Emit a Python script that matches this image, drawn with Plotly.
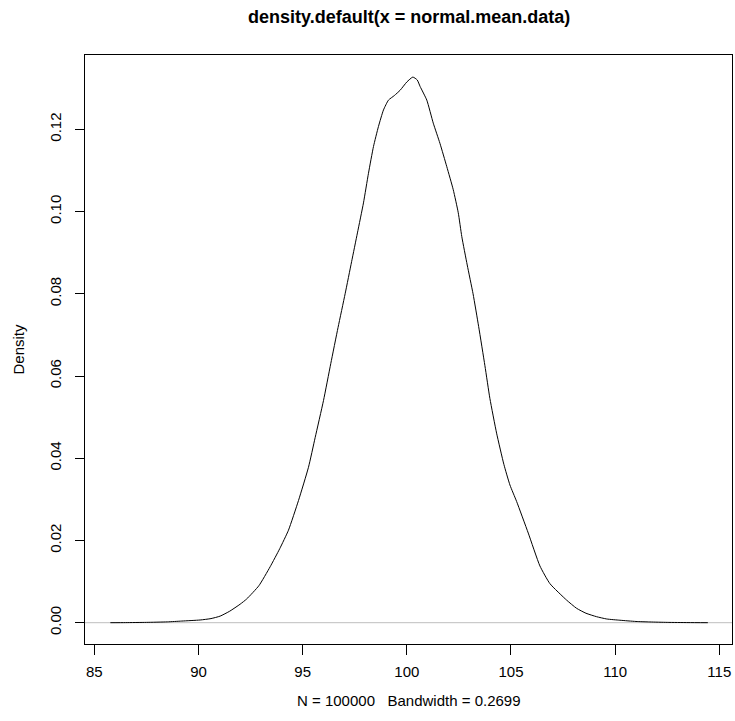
import plotly.graph_objects as go

# Density estimate
x_vals = [85.77, 86.5, 87.5, 88.5, 89.2, 90.08, 90.6, 91.04, 91.5, 92.0, 92.32, 92.9,
          93.44, 93.9, 94.32, 94.8, 95.28, 95.6, 96.0, 96.35, 96.7, 97.04, 97.35, 97.63,
          97.92, 98.16, 98.40, 98.64, 98.88, 99.12, 99.4, 99.68, 100.0, 100.29, 100.5,
          100.64, 100.96, 101.27, 101.59, 101.92, 102.23, 102.47, 102.64, 102.9, 103.18,
          103.45, 103.75, 103.99, 104.31, 104.66, 104.95, 105.27, 105.83, 106.39, 106.87,
          107.67, 108.15, 108.6, 109.11, 109.6, 110.23, 111.0, 111.67, 112.5, 113.5, 114.45]
density_vals = [0.0, 0.00002, 0.00008, 0.0002, 0.0004, 0.00066, 0.0010, 0.0016, 0.0028,
                0.0045, 0.0058, 0.0090, 0.0136, 0.0180, 0.0225, 0.0297, 0.0378, 0.0450,
                0.0540, 0.0630, 0.0718, 0.0800, 0.0878, 0.0948, 0.1021, 0.1093, 0.1158,
                0.1207, 0.1247, 0.1271, 0.1282, 0.1295, 0.1315, 0.1327, 0.1320, 0.1304,
                0.1271, 0.1215, 0.1166, 0.1109, 0.1053, 0.0997, 0.0939, 0.0870, 0.0800,
                0.0720, 0.0625, 0.0545, 0.0461, 0.0385, 0.0335, 0.0295, 0.0218, 0.0138,
                0.0095, 0.0055, 0.0035, 0.0023, 0.00146, 0.0009, 0.0006, 0.0003, 0.00018,
                0.00008, 0.00003, 0.0]

x_ticks = [85, 90, 95, 100, 105, 110, 115]
y_ticks = [0.00, 0.02, 0.04, 0.06, 0.08, 0.10, 0.12]
y_tick_labels = ["0.00", "0.02", "0.04", "0.06", "0.08", "0.10", "0.12"]

title_text = "density.default(x = normal.mean.data)"
x_label = "N = 100000   Bandwidth = 0.2699"
y_label = "Density"

FONT = "Liberation Sans, Arial, Helvetica, sans-serif"

fig = go.Figure()
fig.add_trace(go.Scatter(
    x=x_vals, y=density_vals, mode="lines",
    line=dict(color="black", width=1, shape="spline", smoothing=0.5),
    hoverinfo="skip", showlegend=False,
))

# grey zero line across the plot (abline h = 0)
fig.add_shape(type="line", xref="paper", yref="y", x0=0, x1=1, y0=0, y1=0,
              line=dict(color="#BEBEBE", width=1), layer="below")

fig.update_layout(
    template="none",
    width=735, height=721,
    margin=dict(l=85, r=3, t=55, b=77, pad=0, autoexpand=False),
    paper_bgcolor="white", plot_bgcolor="white",
    font=dict(family=FONT, size=15, color="black"),
    showlegend=False,
)

fig.update_xaxes(
    automargin=False,
    range=[84.553, 115.61], tickmode="array", tickvals=x_ticks,
    ticktext=[str(v) for v in x_ticks],
    showgrid=False, zeroline=False,
    showline=True, linecolor="black", linewidth=1, mirror=True,
    ticks="outside", ticklen=10, tickwidth=1, tickcolor="black",
    tickfont=dict(family=FONT, size=15, color="black"),
    ticklabelstandoff=4,
)
fig.update_yaxes(
    automargin=False,
    range=[-0.00518, 0.13807], tickmode="array", tickvals=y_ticks,
    ticktext=y_tick_labels, tickangle=-90,
    showgrid=False, zeroline=False,
    showline=True, linecolor="black", linewidth=1, mirror=True,
    ticks="outside", ticklen=9, tickwidth=1, tickcolor="black",
    tickfont=dict(family=FONT, size=15, color="black"),
    ticklabelstandoff=8,
)

fig.add_annotation(text="<b>" + title_text + "</b>", xref="paper", yref="paper",
                   x=0.5, y=1, yshift=38, showarrow=False,
                   font=dict(family=FONT, size=18, color="black"),
                   xanchor="center", yanchor="middle")
fig.add_annotation(text=x_label, xref="paper", yref="paper",
                   x=0.5, y=0, yshift=-56, showarrow=False,
                   font=dict(family=FONT, size=15, color="black"),
                   xanchor="center", yanchor="middle")
fig.add_annotation(text=y_label, xref="paper", yref="paper",
                   x=0, xshift=-67, y=0.5, showarrow=False, textangle=-90,
                   font=dict(family=FONT, size=15, color="black"),
                   xanchor="center", yanchor="middle")

# remove the page's default body margin so the figure fills the window exactly
fig.write_html(
    "out.html",
    config={"displayModeBar": False},
    post_script="document.body.style.margin='0';document.body.style.overflow='hidden';",
)
